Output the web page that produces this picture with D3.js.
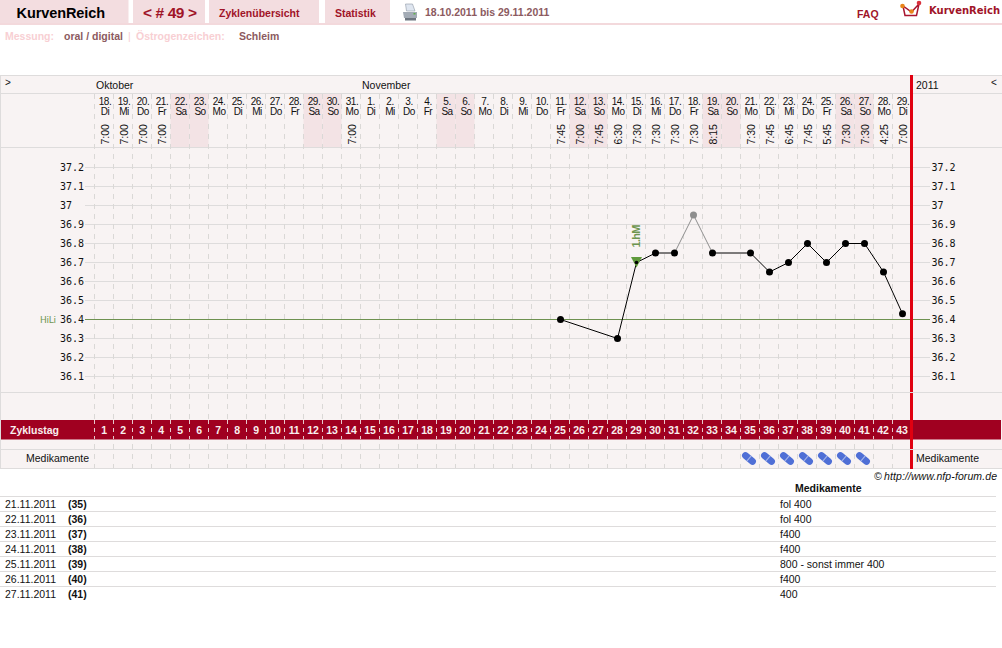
<!DOCTYPE html>
<html><head><meta charset="utf-8">
<script src="https://cdn.jsdelivr.net/npm/d3@7/dist/d3.min.js"></script>
<style>html,body{margin:0;padding:0;background:#fff;overflow:hidden}svg{display:block}text{font-family:"Liberation Sans",Arial,sans-serif}</style>
</head><body><svg id="c" width="1002" height="648"></svg>
<script>
const dates=["18.","19.","20.","21.","22.","23.","24.","25.","26.","27.","28.","29.","30.","31.","1.","2.","3.","4.","5.","6.","7.","8.","9.","10.","11.","12.","13.","14.","15.","16.","17.","18.","19.","20.","21.","22.","23.","24.","25.","26.","27.","28.","29."];
const weekdays=["Di","Mi","Do","Fr","Sa","So","Mo","Di","Mi","Do","Fr","Sa","So","Mo","Di","Mi","Do","Fr","Sa","So","Mo","Di","Mi","Do","Fr","Sa","So","Mo","Di","Mi","Do","Fr","Sa","So","Mo","Di","Mi","Do","Fr","Sa","So","Mo","Di"];
const times=["7:00","7:00","7:00","7:00","","","","","","","","","","7:00","","","","","","","","","","","7:45","7:00","7:45","6:30","7:30","7:30","7:30","7:30","8:15","","7:30","7:45","6:45","7:45","5:45","7:30","7:30","4:25","7:00"];
const cycleDays=d3.range(1,44);
const tempTicks=[36.1,36.2,36.3,36.4,36.5,36.6,36.7,36.8,36.9,37,37.1,37.2];
const tempDays=[25,28,29,30,31,32,33,35,36,37,38,39,40,41,42,43];
const tempValues=[36.4,36.3,36.7,36.75,36.75,36.95,36.75,36.75,36.65,36.7,36.8,36.7,36.8,36.8,36.65,36.43];
const excludedDays=[32];
const coverline=36.4;
const medDays=[35,36,37,38,39,40,41];
const medDates=["21.11.2011","22.11.2011","23.11.2011","24.11.2011","25.11.2011","26.11.2011","27.11.2011"];
const medCycle=["(35)","(36)","(37)","(38)","(39)","(40)","(41)"];
const medNotes=["fol 400","fol 400","f400","f400","800 - sonst immer 400","f400","400"];
const months=[["Oktober",1],["November",15]];

const svg=d3.select("#c");
const x=d3.scaleBand().domain(cycleDays).range([94.5,911.5]).padding(0);
const cx=d=>x(d)+x.bandwidth()/2;
const y=d3.scaleLinear().domain([36.1,37.2]).range([376.5,167.5]);
const PANEL="#f8f3f3",LINE="#dedcdc",WEEK="#f3e3e5",PINK="#f3dde0",RED="#a00020",DK="#111";

function rect(x0,y0,w,h,f){return svg.append("rect").attr("x",x0).attr("y",y0).attr("width",w).attr("height",h).attr("fill",f)}
function hl(x0,x1,yy,c,sw){return svg.append("line").attr("x1",x0).attr("x2",x1).attr("y1",yy).attr("y2",yy).attr("stroke",c).attr("stroke-width",sw||1)}
function txt(s,xx,yy,o){o=o||{};const t=svg.append("text").attr("x",xx).attr("y",yy).text(s)
 .attr("font-size",o.size||11).attr("fill",o.fill||DK).attr("text-anchor",o.anchor||"start");
 if(o.weight)t.attr("font-weight",o.weight);if(o.family)t.style("font-family",o.family);if(o.style)t.attr("font-style",o.style);
 if(o.ls!==undefined)t.attr("letter-spacing",o.ls);if(o.tr)t.attr("transform",o.tr);return t}

// header
[[0,128.5],[133,205],[209,319],[325,390]].forEach(a=>rect(a[0],0,a[1]-a[0],23,PINK));
rect(0,23,1002,2,"#f3d9dc");
txt("KurvenReich",16.5,18,{size:14.5,weight:"bold",fill:"#000"}).attr("textLength",88.5);
txt("< # 49 >",143,18,{size:15.5,weight:"bold",fill:"#a01428"}).attr("textLength",54);
txt("Zyklenübersicht",219,17,{size:10.5,weight:"bold",fill:"#a01428"});
txt("Statistik",335,17,{size:10.5,weight:"bold",fill:"#a01428"});
txt("18.10.2011 bis 29.11.2011",425,16,{size:10.5,weight:"bold",fill:"#8c5a60"});
txt("FAQ",857,18,{size:10.5,weight:"bold",fill:"#a01428"});
txt("KurvenReich",929,14,{size:10,weight:"bold",fill:"#a01428",family:"DejaVu Sans"}).attr("textLength",71);
// printer icon
const pr=svg.append("g").attr("transform","translate(403,4)");
pr.append("path").attr("d","M2.5 0h7l2.5 7H3.5z").attr("fill","#dfe6f0").attr("stroke","#8d97a5").attr("stroke-width",.6);
pr.append("path").attr("d","M0 8h14v6H1z").attr("fill","#a3abb5");
pr.append("rect").attr("x",2).attr("y",14).attr("width",11).attr("height",2.5).attr("fill","#6d757f");
pr.append("rect").attr("x",10.5).attr("y",9).attr("width",2).attr("height",1.5).attr("fill","#5fb04a");
// logo
const lg=svg.append("g");
lg.append("path").attr("d","M903 6l2 9.5h11.5L919 4l-7.5 8z").attr("fill","none").attr("stroke","#a8142e").attr("stroke-width",1.5);
[[902.5,6,"#e8841a"],[911.5,11.5,"#e8841a"],[919,3,"#d8303c"]].forEach(p=>lg.append("circle").attr("cx",p[0]).attr("cy",p[1]).attr("r",2.3).attr("fill",p[2]));
// sub header
txt("Messung:",5,40,{size:10.5,weight:"bold",fill:"#f8cfd3"});
txt("oral / digital",64,40,{size:10.5,weight:"bold",fill:"#8c5a60"});
txt("|",128,40,{size:10.5,fill:"#f8cfd3"});
txt("Östrogenzeichen:",136,40,{size:10.5,weight:"bold",fill:"#f8cfd3"});
txt("Schleim",239,40,{size:10.5,weight:"bold",fill:"#8c5a60"});

// panel
rect(0,75,1002,394,PANEL);
cycleDays.forEach((d,i)=>{const wd=weekdays[i];if(wd==="Sa"||wd==="So")rect(x(d),94,x.bandwidth(),53.5,WEEK)});
[75.5,93.5,147.5,392.5,449.5,468.5].forEach(v=>hl(0,1002,v,LINE));
svg.append("line").attr("x1",.5).attr("x2",.5).attr("y1",75).attr("y2",469).attr("stroke",LINE);

// horizontal grid
tempTicks.forEach(t=>hl(85,930,y(t),LINE));
// vertical dashed
cycleDays.forEach(d=>{svg.append("line").attr("x1",x(d)).attr("x2",x(d)).attr("y1",94).attr("y2",468)
 .attr("stroke","#dad8d6").attr("stroke-dasharray","5 5")});

// cycle band
rect(1,420,1000,19.5,RED);
cycleDays.forEach(d=>{svg.append("line").attr("x1",x(d)).attr("x2",x(d)).attr("y1",420).attr("y2",439)
 .attr("stroke","#e8c8cc").attr("stroke-dasharray","4 4");
 txt(d,cx(d),434,{size:10.5,weight:"bold",fill:"#f8eeee",anchor:"middle",ls:-.2})});
txt("Zyklustag",10,434,{size:10.5,weight:"bold",fill:"#f8eeee"});

// month row
txt(">",5,86,{size:10});
months.forEach(m=>txt(m[0],x(m[1])+1.5,89,{size:10.5}));
txt("2011",916,89,{size:10.5});
txt("<",991,86,{size:10});

// date labels
cycleDays.forEach((d,i)=>{
 txt(dates[i],cx(d)+1,105,{size:10,anchor:"middle",ls:-.5});
 txt(weekdays[i],cx(d)+1,115,{size:10,anchor:"middle",ls:-.5});
 if(times[i]){const px=cx(d)+4.5;txt(times[i],px,144.5,{size:10.5,tr:`rotate(-90 ${px} 144.5)`})}
});

// temperature labels
tempTicks.forEach(t=>{
 const s=String(t);
 txt(s,60,y(t)+3.5,{size:10,family:"DejaVu Sans Mono, monospace"});
 txt(s,931.5,y(t)+3.5,{size:10,family:"DejaVu Sans Mono, monospace"});
});
txt("HiLi",40,y(coverline)+3,{size:9,fill:"#6e9650",family:"DejaVu Sans"}).attr("textLength",16);
hl(85,930,y(coverline),"#6e9150",1);

// line
const pts=tempDays.map((d,i)=>({d,v:tempValues[i],ex:excludedDays.includes(d)}));
const dx=.5;
for(let i=0;i<pts.length-1;i++){
 const a=pts[i],b=pts[i+1],g=a.ex||b.ex;
 svg.append("line").attr("x1",cx(a.d)+dx).attr("y1",y(a.v)).attr("x2",cx(b.d)+dx).attr("y2",y(b.v))
  .attr("stroke",g?"#8e8e8e":"#000").attr("stroke-width",1);
}
// ovulation marker
const ovDay=29,ovVal=36.7;
const ox=cx(ovDay)+dx,oy=y(ovVal);
svg.append("path").attr("d",`M${ox-5.5} ${oy-5.5}h11l-5.5 10.5z`).attr("fill","#5f9a3c");
txt("1.hM",ox+3.5,oy-15,{size:11,weight:"bold",fill:"#6e9650",tr:`rotate(-90 ${ox+3.5} ${oy-15})`}).attr("textLength",23);
svg.selectAll("circle.pt").data(pts).join("circle").attr("class","pt").attr("cx",p=>cx(p.d)+dx).attr("cy",p=>y(p.v))
 .attr("r",p=>p.d===ovDay?1.8:3.5).attr("fill",p=>p.ex?"#8e8e8e":"#000");

// red line
rect(910,75,3,394,"#e00010");
hl(910,913,392.5,LINE);hl(910,913,449.5,LINE);

// medication row
txt("Medikamente",89,462,{size:10.5,anchor:"end"});
txt("Medikamente",916,462,{size:10.5});
medDays.forEach(d=>{
 const g=svg.append("g").attr("transform",`translate(${cx(d)-1},458.5) rotate(40)`);
 g.append("rect").attr("x",-8).attr("y",-3.5).attr("width",16).attr("height",7).attr("rx",3.5).attr("fill","#4f6fd6");
 g.append("rect").attr("x",-.5).attr("y",-3.5).attr("width",1).attr("height",7).attr("fill","#a9b8ea");
});

// copyright
txt("©",874,480,{size:10.5,style:"italic"});
txt("http://www.nfp-forum.de",884,480,{size:10.5,style:"italic"}).attr("textLength",113);

// table
txt("Medikamente",795,492,{size:10.5,weight:"bold"});
medDates.forEach((s,i)=>{
 const yy=496.5+15*i;
 hl(0,996,yy,LINE);
 txt(s,5,yy+11.5,{size:10.5});
 txt(medCycle[i],68,yy+11.5,{size:10.5,weight:"bold"});
 txt(medNotes[i],780,yy+11.5,{size:10.5});
});
</script></body></html>
